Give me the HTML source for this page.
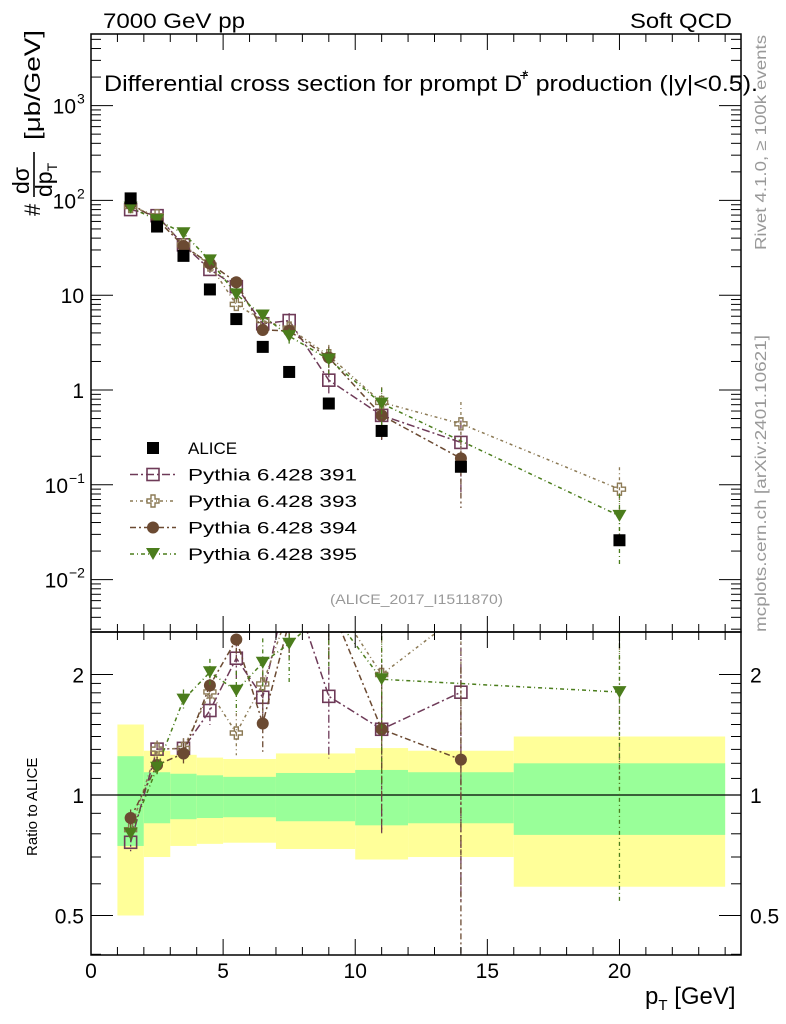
<!DOCTYPE html>
<html><head><meta charset="utf-8"><style>
html,body{margin:0;padding:0;background:#fff;}
svg{display:block;font-family:"Liberation Sans",sans-serif;}
</style></head><body>
<svg id="chart" width="786" height="1024" viewBox="0 0 786 1024" xmlns="http://www.w3.org/2000/svg">
<text x="103" y="28" font-size="21" textLength="142" lengthAdjust="spacingAndGlyphs">7000 GeV pp</text>
<text x="630" y="28" font-size="21" textLength="102" lengthAdjust="spacingAndGlyphs">Soft QCD</text>
<g id="bands"></g>
<g id="marks"></g>
<g id="axes"></g>
<text x="104" y="91" font-size="22" textLength="654" lengthAdjust="spacingAndGlyphs">Differential cross section for prompt D<tspan font-size="14" dy="-11">*</tspan><tspan font-size="14" dx="-8">+</tspan><tspan dy="11"> production (|y|&lt;0.5).</tspan></text>
<text x="330" y="604" font-size="14" fill="#999" textLength="173" lengthAdjust="spacingAndGlyphs">(ALICE_2017_I1511870)</text>
<text transform="translate(766,250) rotate(-90)" font-size="16" fill="#999" textLength="215" lengthAdjust="spacingAndGlyphs">Rivet 4.1.0, ≥ 100k events</text>
<text transform="translate(766,632) rotate(-90)" font-size="16" fill="#999" textLength="297" lengthAdjust="spacingAndGlyphs">mcplots.cern.ch [arXiv:2401.10621]</text>
<g transform="translate(32,216) rotate(-90)">
<text x="0" y="8" font-size="22">#</text>
<text x="22" y="-3" font-size="23">dσ</text>
<line x1="19" y1="2" x2="64" y2="2" stroke="#000" stroke-width="1.6"/>
<text x="19" y="20" font-size="23">dp<tspan font-size="14" dy="5">T</tspan></text>
<text x="76" y="8" font-size="22" textLength="110" lengthAdjust="spacingAndGlyphs">[μb/GeV]</text>
</g>
<text transform="translate(37,856) rotate(-90)" font-size="15">Ratio to ALICE</text>
<text x="645" y="1004" font-size="24">p<tspan font-size="15" dy="6">T</tspan><tspan dy="-6"> [GeV]</tspan></text>
<g id="legend"></g>
</svg>
<script>
const xCenters = [1.5, 2.5, 3.5, 4.5, 5.5, 6.5, 7.5, 9, 11, 14, 20];
const alice = [105, 53, 26, 11.5, 5.6, 2.85, 1.55, 0.72, 0.37, 0.155, 0.026];
const p391 = [80, 69, 34, 18.7, 12.3, 5.0, 5.4, 1.27, 0.54, 0.28, null];
const p393 = [86, 69, 34, 20.8, 8.0, 5.4, 4.5, 2.3, 0.74, 0.44, 0.09];
const p394 = [92, 63, 33, 21.6, 13.7, 4.3, 4.2, 2.2, 0.54, 0.19, null];
const p395 = [84, 62, 45, 23.3, 10.2, 6.1, 3.7, 2.1, 0.72, null, 0.047];
const relErr = [0.05, 0.05, 0.06, 0.08, 0.12, 0.15, 0.2, 0.3, 0.45, 0.7, 0.7];
const bandEdges = [1, 2, 3, 4, 5, 7, 10, 12, 16, 24];
const yellowHi = [1.50, 1.29, 1.26, 1.24, 1.23, 1.27, 1.31, 1.29, 1.40];
const greenHi = [1.25, 1.14, 1.13, 1.12, 1.11, 1.135, 1.155, 1.14, 1.20];
const greenLo = [0.746, 0.85, 0.87, 0.876, 0.88, 0.86, 0.84, 0.85, 0.795];
const yellowLo = [0.5, 0.70, 0.746, 0.755, 0.76, 0.733, 0.69, 0.70, 0.59];
const xTicks = [0, 5, 10, 15, 20];
const mainTicks = [-2, -1, 0, 1, 2, 3];
const mainTickLabels = ["10", "10", "1", "10", "10", "10"];
const mainTickExp = ["-2", "-1", "", "", "2", "3"];
const ratioTicks = [0.5, 1, 2];
const ratioTickLabels = ["0.5", "1", "2"];

const NS = "http://www.w3.org/2000/svg";
const L = 91, R = 741, MT = 34, MB = 632, RB = 955;
const xMax = 24.6;
function X(v){ return L + v/xMax*(R-L); }
function Y(v){ return 390 - Math.log10(v)*94.8; }
function YR(v){ return 795 - Math.log2(v)*120.5; }
function mk(tag, attrs, parent){ const e = document.createElementNS(NS, tag); for (const k in attrs) e.setAttribute(k, attrs[k]); parent.appendChild(e); return e; }

const bands = document.getElementById('bands');
const marks = document.getElementById('marks');
const axes = document.getElementById('axes');
const legend = document.getElementById('legend');

for (let i = 0; i < yellowHi.length; i++) {
  const y = mk('rect', {x: X(bandEdges[i]), y: YR(yellowHi[i]), width: X(bandEdges[i+1]) - X(bandEdges[i]), height: YR(yellowLo[i]) - YR(yellowHi[i]), fill: '#ffff99'}, bands);
  
  
  const g = mk('rect', {x: X(bandEdges[i]), y: YR(greenHi[i]), width: X(bandEdges[i+1]) - X(bandEdges[i]), height: YR(greenLo[i]) - YR(greenHi[i]), fill: '#99ff99'}, bands);
  
  
}
const one = mk('line', {x1: L, x2: R, y1: YR(1), y2: YR(1), stroke: '#000', 'stroke-width': 1.3}, bands);



const series = [
  {name: 'Pythia 6.428 391', vals: p391, color: '#6e3a58', shape: 'square', dash: '8,3,2,3'},
  {name: 'Pythia 6.428 393', vals: p393, color: '#8c7a55', shape: 'cross', dash: '3,3,1,3'},
  {name: 'Pythia 6.428 394', vals: p394, color: '#6b4a32', shape: 'circle', dash: '6,3,2,3'},
  {name: 'Pythia 6.428 395', vals: p395, color: '#4b7d1c', shape: 'tri', dash: '4,3,1,3'}
];

function marker(shape, x, y, c, parent){
  let e;
  if (shape === 'square') e = mk('rect', {x: x-6, y: y-6, width: 12, height: 12, fill: 'none', stroke: c, 'stroke-width': 1.6}, parent);
  else if (shape === 'cross') e = mk('path', {d: `M${x-2},${y-6}h4v4h4v4h-4v4h-4v-4h-4v-4h4z`, fill: 'none', stroke: c, 'stroke-width': 1.4}, parent);
  else if (shape === 'circle') e = mk('circle', {cx: x, cy: y, r: 6, fill: c}, parent);
  else if (shape === 'tri') e = mk('path', {d: `M${x-7},${y-6}h14l-7,12z`, fill: c}, parent);
  else e = mk('rect', {x: x-6, y: y-6, width: 12, height: 12, fill: '#000'}, parent);
  return e;
}

const clipTop = mk('clipPath', {id: 'cr'}, marks); mk('rect', {x: L, y: MB, width: R-L, height: RB-MB}, clipTop);
const ratioG = mk('g', {'clip-path': 'url(#cr)'}, marks);



series.forEach((s, si) => {
  const g = mk('g', {}, marks);
  
  
  let pts = [], rpts = [];
  s.vals.forEach((v, i) => {
    if (v == null) return;
    const x = X(xCenters[i]), y = Y(v);
    const e = relErr[i];
    mk('line', {x1: x, x2: x, y1: Y(v*(1+e)), y2: Y(v*Math.max(0.05, 1-e)), stroke: s.color, 'stroke-width': 1.3, 'stroke-dasharray': s.dash}, g);
    pts.push(x + ',' + y);
    const r = v / alice[i];
    const yr = YR(r);
    mk('line', {x1: x, x2: x, y1: YR(r*(1+e)), y2: YR(r*Math.max(0.05, 1-e)), stroke: s.color, 'stroke-width': 1.3, 'stroke-dasharray': s.dash}, ratioG);
    rpts.push(x + ',' + yr);
  });
  mk('polyline', {points: pts.join(' '), fill: 'none', stroke: s.color, 'stroke-width': 1.5, 'stroke-dasharray': s.dash}, g);
  mk('polyline', {points: rpts.join(' '), fill: 'none', stroke: s.color, 'stroke-width': 1.5, 'stroke-dasharray': s.dash}, ratioG);
  s.vals.forEach((v, i) => {
    if (v == null) return;
    const m = marker(s.shape, X(xCenters[i]), Y(v), s.color, g);
    
    
    const rm = marker(s.shape, X(xCenters[i]), YR(v/alice[i]), s.color, ratioG);
    
    
  });
});

alice.forEach((v, i) => {
  const m = marker('data', X(xCenters[i]), Y(v), '#000', marks);
  
  
});

const f1 = mk('rect', {x: L, y: MT, width: R-L, height: MB-MT, fill: 'none', stroke: '#000', 'stroke-width': 1.5}, axes);


const f2 = mk('rect', {x: L, y: MB, width: R-L, height: RB-MB, fill: 'none', stroke: '#000', 'stroke-width': 1.5}, axes);



for (let v = 0; v <= 24; v++) {
  const major = v % 5 === 0, len = major ? 16 : 8, x = X(v);
  [[MT, 1], [MB, -1], [MB, 1], [RB, -1]].forEach(([y0, d]) => mk('line', {x1: x, x2: x, y1: y0, y2: y0 + d*len, stroke: '#000', 'stroke-width': 1}, axes));
}
xTicks.forEach(v => {
  const t = mk('text', {x: X(v), y: 978, 'font-size': 21, 'text-anchor': 'middle'}, axes);
  t.textContent = String(v);
  
  
});

for (let d = -3; d <= 3; d++) {
  for (let k = 1; k <= 9; k++) {
    const v = k * Math.pow(10, d), y = Y(v);
    if (y < MT || y > MB) continue;
    const len = k === 1 ? 22 : 10;
    mk('line', {x1: L, x2: L + len, y1: y, y2: y, stroke: '#000', 'stroke-width': 1}, axes);
    mk('line', {x1: R, x2: R - len, y1: y, y2: y, stroke: '#000', 'stroke-width': 1}, axes);
  }
}
mainTicks.forEach((p, i) => {
  const t = mk('text', {x: 84, y: Y(Math.pow(10, p)) + 8, 'font-size': 21, 'text-anchor': 'end'}, axes);
  
  
  if (mainTickExp[i]) {
    t.setAttribute('x', 84 - (mainTickExp[i].length * 8));
    t.textContent = mainTickLabels[i];
    const s = mk('text', {x: 84 - mainTickExp[i].length*8 + 1, y: Y(Math.pow(10, p)) - 2, 'font-size': 14}, axes);
    s.textContent = mainTickExp[i].replace('-', '−');
    
    
  } else {
    t.textContent = mainTickLabels[i];
  }
});

const rMinor = [0.4, 0.6, 0.7, 0.8, 0.9, 1.1, 1.2, 1.3, 1.4, 1.5, 1.6, 1.7, 1.8, 1.9];
rMinor.forEach(v => { const y = YR(v); if (y > RB || y < MB) return;
  mk('line', {x1: L, x2: L + 10, y1: y, y2: y, stroke: '#000'}, axes);
  mk('line', {x1: R, x2: R - 10, y1: y, y2: y, stroke: '#000'}, axes); });
ratioTicks.forEach((v, i) => {
  const y = YR(v);
  mk('line', {x1: L, x2: L + 22, y1: y, y2: y, stroke: '#000'}, axes);
  mk('line', {x1: R, x2: R - 22, y1: y, y2: y, stroke: '#000'}, axes);
  const t = mk('text', {x: 84, y: y + 8, 'font-size': 21, 'text-anchor': 'end'}, axes);
  t.textContent = ratioTickLabels[i];
  
  
  const t2 = mk('text', {x: 750, y: y + 8, 'font-size': 21}, axes);
  t2.textContent = ratioTickLabels[i];
  
  
});

const legItems = [{name: 'ALICE', shape: 'data', color: '#000', dash: null}].concat(series);
legItems.forEach((s, i) => {
  const y = 448 + i*26.5;
  const g = mk('g', {}, legend);
  
  
  if (s.dash) mk('line', {x1: 130, x2: 176, y1: y, y2: y, stroke: s.color, 'stroke-width': 1.5, 'stroke-dasharray': s.dash}, g);
  marker(s.shape, 153, y, s.color, g);
  const t = mk('text', {x: 188, y: y + 6, 'font-size': 17}, g);
  if (s.dash) { t.setAttribute('textLength', '169'); t.setAttribute('lengthAdjust', 'spacingAndGlyphs'); }
  t.textContent = s.name;
});
</script>
</body></html>
